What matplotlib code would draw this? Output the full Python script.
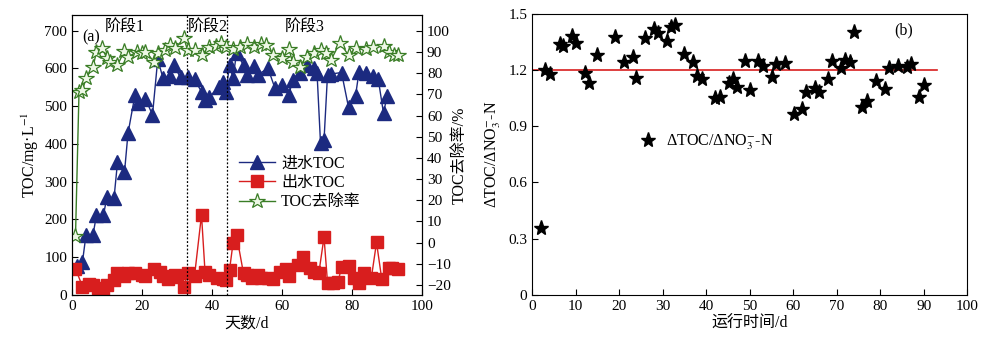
import matplotlib
matplotlib.use("Agg")
import matplotlib.pyplot as plt

plt.rcParams['font.family'] = ['Liberation Serif', 'Noto Sans CJK SC', 'DejaVu Sans']
plt.rcParams['mathtext.fontset'] = 'stix'
plt.rcParams['font.size'] = 11

# panel (a): influent TOC
inf_day = [1.5, 3, 4, 6, 7, 9, 10, 12, 13, 15, 16, 18, 19, 21, 23, 24.5, 26, 28, 29, 31, 33,
           35, 37, 38, 39, 42, 43, 44, 45, 46, 47, 49, 50, 52, 53, 56, 58, 60, 62, 63, 65,
           67, 69, 70, 71, 72, 73, 74, 77, 79, 81, 82, 84, 86, 87.5, 89, 90]
inf_toc = [78, 88, 159, 159, 212, 212, 260, 256, 351, 325, 428, 530, 508, 519, 477, 624, 574,
           580, 609, 576, 578, 571, 538, 516, 523, 550, 565, 538, 609, 574, 640, 609, 583, 605,
           583, 600, 547, 556, 530, 569, 589, 609, 600, 589, 402, 410, 583, 585, 589, 497, 527,
           591, 589, 580, 571, 481, 527]

# effluent TOC
eff_day = [1, 3, 5, 6, 7.5, 9, 10, 12, 13, 15, 16, 18, 20, 21, 23.5, 25, 26, 27.5, 29.5, 30,
           32, 33, 35, 37, 38, 39, 41.5, 43, 44, 45, 46, 47, 49, 50, 51.5, 53, 54, 56, 57.5,
           59.5, 61, 62, 64.5, 66, 68, 69, 70.5, 72, 73, 74.5, 76, 77, 79, 80.5, 82, 83.5,
           85.5, 87, 88.5, 90.5, 91.5, 93]
eff_toc = [70, 22, 29, 26, 18, 13, 26, 40, 57, 49, 57, 57, 53, 50, 68, 62, 50, 42, 53, 47,
           22, 58, 50, 212, 62, 53, 45, 42, 40, 66, 137, 159, 57, 53, 44, 53, 44, 44, 42,
           62, 68, 49, 79, 100, 71, 62, 57, 153, 33, 33, 35, 73, 77, 44, 33, 57, 44, 139,
           42, 71, 71, 68]

# TOC removal rate (%)
rem_day = [1, 2, 3, 4, 6, 7, 8.5, 10, 11, 13, 15, 16, 18.5, 20, 21, 23.5, 24.5, 26.5, 28,
           29.5, 32, 33, 35, 37, 39, 41, 42.5, 44, 46, 48, 50, 52, 54, 55.5, 57.5, 60, 62,
           63, 65, 67, 69, 71, 72.5, 74, 76.5, 79, 81, 84, 86, 89, 90.5, 92, 93]
rem_pct = [3, 71, 72, 77.5, 83, 90, 92, 87, 85.4, 83.8, 90.6, 87.7, 90, 89.3, 90, 85.4, 89.3,
           90.9, 93.3, 91.7, 96.4, 90.9, 90.9, 88.5, 92.2, 92.8, 94, 92.5, 91.2, 92.5, 93.7,
           92.5, 93.7, 93.5, 88.5, 87, 91.2, 85.4, 83, 87.7, 89.3, 90.9, 89.3, 86.2, 94.3,
           88.5, 91.7, 91.2, 92.5, 92.8, 90, 88.5, 88.5]

# panel (b): dTOC/dNO3-N
r_day = [2, 3, 4, 6.3, 7, 9.1, 10.1, 12.2, 13.1, 15, 19.1, 21, 23.1, 23.9, 26, 28.1, 29, 31,
         32, 32.9, 35, 36.9, 37.9, 39, 42.1, 43.2, 45.2, 46.1, 47.1, 49, 50, 51.9, 53, 55.1,
         56.1, 58.2, 60.1, 62, 63, 64.9, 66, 67.9, 68.9, 71.1, 72, 73.1, 74, 75.8, 77, 79.1,
         81.2, 82, 84.1, 86.2, 87.1, 89, 90]
r_val = [0.358, 1.2, 1.178, 1.34, 1.33, 1.38, 1.344, 1.185, 1.13, 1.28, 1.376, 1.243, 1.27,
         1.155, 1.372, 1.42, 1.399, 1.353, 1.429, 1.441, 1.284, 1.243, 1.168, 1.152, 1.05,
         1.055, 1.129, 1.15, 1.111, 1.247, 1.094, 1.247, 1.222, 1.164, 1.23, 1.235, 0.965,
         0.993, 1.08, 1.103, 1.085, 1.152, 1.247, 1.208, 1.252, 1.243, 1.402, 1.002, 1.032,
         1.143, 1.097, 1.208, 1.22, 1.217, 1.23, 1.055, 1.12]
ref_level = 1.2

navy = '#1c2a80'
red = '#d81e1e'
green = '#3a7d26'

fig = plt.figure(figsize=(9.93, 3.43), dpi=100)
ax1 = fig.add_axes([0.0725, 0.14, 0.3525, 0.816])
ax2 = ax1.twinx()

l1, = ax1.plot(inf_day, inf_toc, '-^', color=navy, lw=1, ms=10, mec=navy, mfc=navy,
               label='进水TOC')
l2, = ax1.plot(eff_day, eff_toc, '-s', color=red, lw=1, ms=8.5, mec=red, mfc=red,
               label='出水TOC')
l3, = ax2.plot(rem_day, rem_pct, '-*', color=green, lw=1, ms=11.5, mec=green, mfc='#eef8e6',
               mew=0.9, label='TOC去除率')

for d in [32.8, 44.3]:
    ax1.axvline(d, color='black', ls=(0, (1.5, 1.5)), lw=0.9)

ax1.set_xlim(0, 100)
ax1.set_ylim(0, 741)
ax2.set_ylim(-24.7, 107.4)
ax1.set_xticks(range(0, 101, 20))
ax1.set_yticks(range(0, 701, 100))
ax2.set_yticks(range(-20, 101, 10))
ax1.tick_params(direction='in', length=4, labelsize=11)
ax2.tick_params(direction='in', length=4, labelsize=11)
ax1.set_xlabel('天数/d', fontsize=11.5, labelpad=2)
ax1.set_ylabel('TOC/mg·L$^{-1}$', fontsize=11.5, labelpad=2)
ax2.set_ylabel('TOC去除率/%', fontsize=11.5, labelpad=1)

ax1.text(15, 707, '阶段1', ha='center', va='center', fontsize=11.5)
ax1.text(38.8, 707, '阶段2', ha='center', va='center', fontsize=11.5)
ax1.text(66.5, 707, '阶段3', ha='center', va='center', fontsize=11.5)
ax1.text(3, 683, '(a)', ha='left', va='center', fontsize=11.5)

ax2.legend(handles=[l1, l2, l3], loc='upper left', bbox_to_anchor=(0.46, 0.52),
           frameon=False, fontsize=11.5, handlelength=2.2, handletextpad=0.4,
           labelspacing=0.2, borderaxespad=0)

# panel (b)
ax3 = fig.add_axes([0.536, 0.14, 0.438, 0.82])
ax3.plot([0, 93], [ref_level, ref_level], color=red, lw=1.2, zorder=1)
ax3.plot(r_day, r_val, '*', color='black', ms=11, ls='none', zorder=3,
         label='ΔTOC/ΔNO$_3^{-}$-N')
ax3.set_xlim(0, 100)
ax3.set_ylim(0, 1.5)
ax3.set_xticks(range(0, 101, 10))
ax3.set_yticks([0, 0.3, 0.6, 0.9, 1.2, 1.5])
ax3.set_yticklabels(['0', '0.3', '0.6', '0.9', '1.2', '1.5'])
ax3.tick_params(direction='in', length=4, labelsize=11)
ax3.set_xlabel('运行时间/d', fontsize=11.5, labelpad=2)
ax3.set_ylabel('ΔTOC/ΔNO$_3^{-}$-N', fontsize=11.5, labelpad=4)
ax3.text(85.5, 1.41, '(b)', ha='center', va='center', fontsize=11.5)
ax3.legend(loc='upper left', bbox_to_anchor=(0.23, 0.60), frameon=False, fontsize=11.5,
           handlelength=1.2, handletextpad=0.5, borderaxespad=0)

fig.savefig('out.png', dpi=100)
